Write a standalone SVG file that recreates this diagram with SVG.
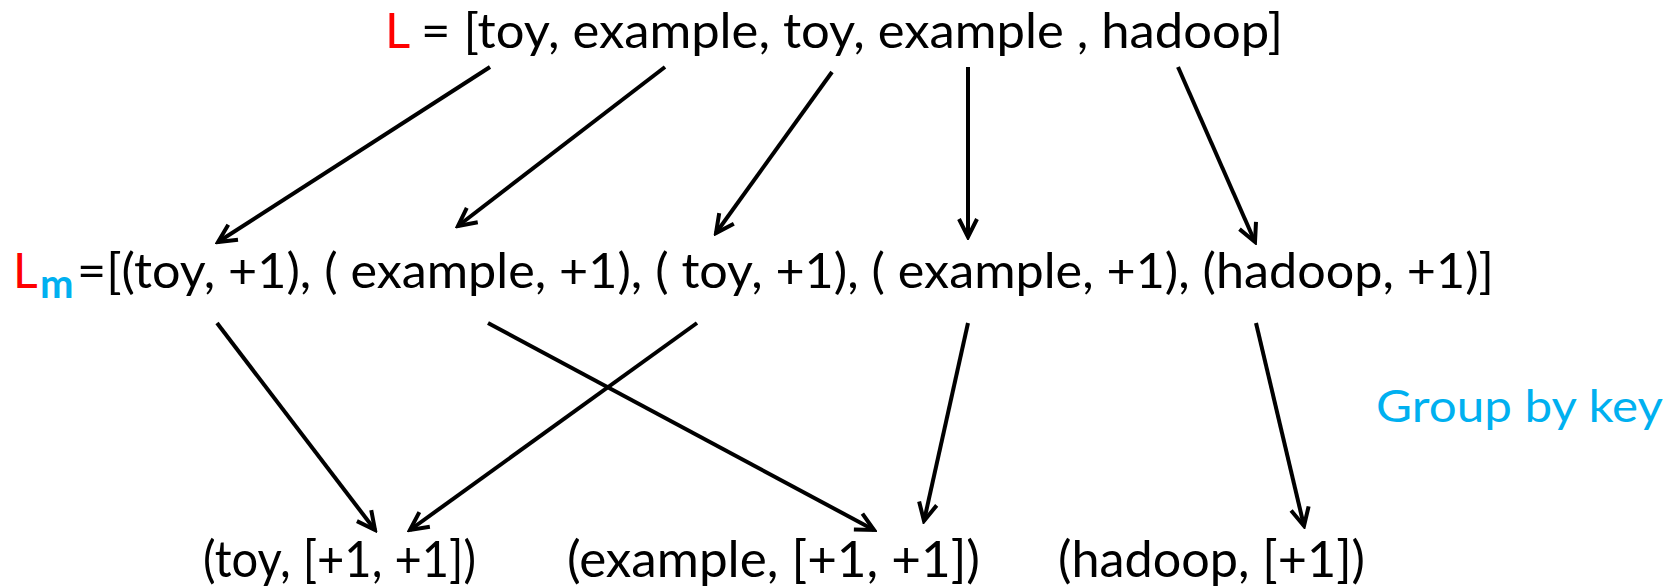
<svg xmlns="http://www.w3.org/2000/svg" width="1676" height="587" viewBox="0 0 1676 587">
<style>
.t{font-family:Lato,"Open Sans","Liberation Sans",sans-serif;fill:#000}
.red{fill:#FF0000}
.cyan{fill:#00B0F0}
.c line{stroke:#000;stroke-width:4;marker-end:url(#ah)}
</style>
<defs>
<marker id="ah" viewBox="0 0 24 24" refX="21" refY="12" markerWidth="24" markerHeight="24" markerUnits="userSpaceOnUse" orient="auto">
<path d="M3,3 L21,12 L3,21" fill="none" stroke="#000" stroke-width="4" stroke-linejoin="miter"/>
</marker>
</defs>
<rect width="1676" height="587" fill="#fff"/>
<g id="L">
<text class="t red" x="385" y="48" font-size="49">L</text>
<text class="t" x="421" y="48" font-size="49" textLength="862" lengthAdjust="spacingAndGlyphs">= [toy, example, toy, example , hadoop]</text>
</g>
<g id="Lm">
<text class="t red" x="13" y="288" font-size="48">L</text>
<text class="t cyan" x="40" y="298" font-size="40" font-weight="bold">m</text>
<text class="t" x="77" y="288" font-size="48" textLength="1417" lengthAdjust="spacingAndGlyphs">=[(toy, +1), ( example, +1), ( toy, +1), ( example, +1), (hadoop, +1)]</text>
</g>
<g id="toy">
<text class="t" x="203" y="577" font-size="50" textLength="273" lengthAdjust="spacingAndGlyphs">(toy, [+1, +1])</text>
</g>
<g id="example">
<text class="t" x="567" y="577" font-size="50" textLength="413" lengthAdjust="spacingAndGlyphs">(example, [+1, +1])</text>
</g>
<g id="hadoop">
<text class="t" x="1058" y="577" font-size="50" textLength="307" lengthAdjust="spacingAndGlyphs">(hadoop, [+1])</text>
</g>
<g id="groupbykey">
<text class="t cyan" x="1376" y="422" font-size="44" textLength="287" lengthAdjust="spacingAndGlyphs">Group by key</text>
</g>
<g id="connectors" class="c">
<line x1="490" y1="67" x2="218" y2="242"/>
<line x1="665" y1="67" x2="458" y2="226"/>
<line x1="832" y1="72" x2="716" y2="233"/>
<line x1="968" y1="67" x2="968" y2="237"/>
<line x1="1178" y1="67" x2="1255" y2="242"/>
<line x1="217" y1="323" x2="375" y2="530"/>
<line x1="697" y1="323" x2="410" y2="530"/>
<line x1="488" y1="323" x2="874" y2="530"/>
<line x1="968" y1="323" x2="924" y2="521"/>
<line x1="1256" y1="323" x2="1304" y2="526"/>
</g>
</svg>
